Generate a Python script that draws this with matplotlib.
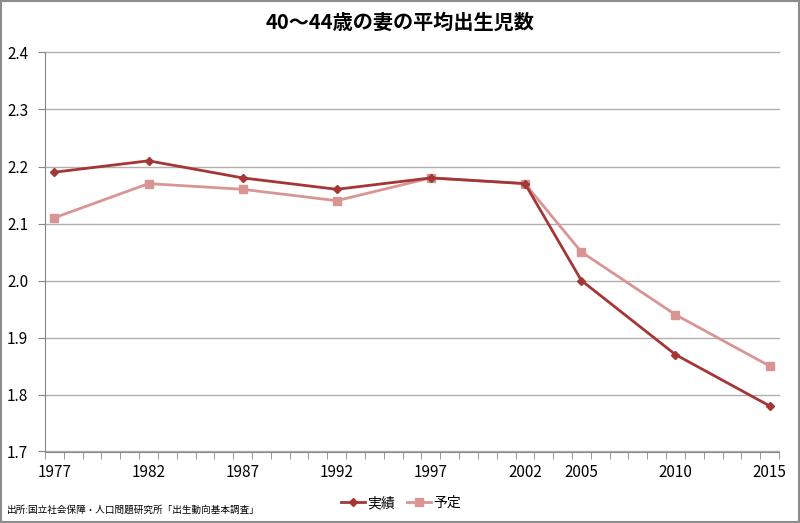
import numpy as np
import matplotlib.pyplot as plt
from matplotlib.patches import Rectangle
from matplotlib.ticker import MultipleLocator, FixedLocator

plt.rcParams['font.family'] = ['Noto Sans CJK JP', 'DejaVu Sans']

years = [1977, 1982, 1987, 1992, 1997, 2002, 2005, 2010, 2015]
actual = [2.19, 2.21, 2.18, 2.16, 2.18, 2.17, 2.00, 1.87, 1.78]
planned = [2.11, 2.17, 2.16, 2.14, 2.18, 2.17, 2.05, 1.94, 1.85]

title = '40～44歳の妻の平均出生児数'
source = '出所:国立社会保障・人口問題研究所「出生動向基本調査」'

fig = plt.figure(figsize=(8, 5.23), dpi=100)
ax = fig.add_axes([45/800, 1 - 451.5/523, (779 - 45)/800, (451.5 - 52.5)/523])

ax.plot(years, actual, '-D', color='#A53636', lw=2, ms=4.5, label='実績', zorder=3)
ax.plot(years, planned, '-s', color='#D99594', lw=2, ms=6, label='予定', zorder=2)

ax.set_xlim(1976.5, 2015.5)
ax.set_ylim(1.7, 2.4)
ax.yaxis.set_major_locator(MultipleLocator(0.1))
ax.yaxis.set_major_formatter(plt.FuncFormatter(lambda v, p: f'{v:.1f}'))
ax.set_xticks(years)
ax.set_xticklabels([str(y) for y in years])
ax.xaxis.set_minor_locator(FixedLocator(np.arange(1976.5, 2016, 1)))
ax.tick_params(axis='x', which='major', length=0, pad=9, labelsize=11)
ax.tick_params(axis='x', which='minor', length=5, color='#868686')
ax.tick_params(axis='y', length=5, color='#868686', labelsize=11, pad=7)
ax.grid(axis='y', color='#B0B0B0', lw=1)
for gl in ax.get_ygridlines():
    gl.set_clip_on(False)
ax.set_axisbelow(True)
for s in ['top', 'right']:
    ax.spines[s].set_visible(False)
for s in ['left', 'bottom']:
    ax.spines[s].set_color('#868686')

fig.text(0.5, 1 - 22/523, title, ha='center', va='center', fontsize=14.5, fontweight='bold')
fig.text(7/800, 1 - 510/523, source, ha='left', va='center', fontsize=6.9)
fig.legend(loc='center', bbox_to_anchor=(401/800, 1 - 503/523), ncol=2, frameon=False,
           fontsize=10, handlelength=1.7, columnspacing=0.9, handletextpad=0.15)

fig.patches.append(Rectangle((0.001, 0.001), 0.998, 0.998, transform=fig.transFigure,
                             fill=False, edgecolor='#8C8C8C', lw=1.5))

fig.savefig('out.png', dpi=100)
